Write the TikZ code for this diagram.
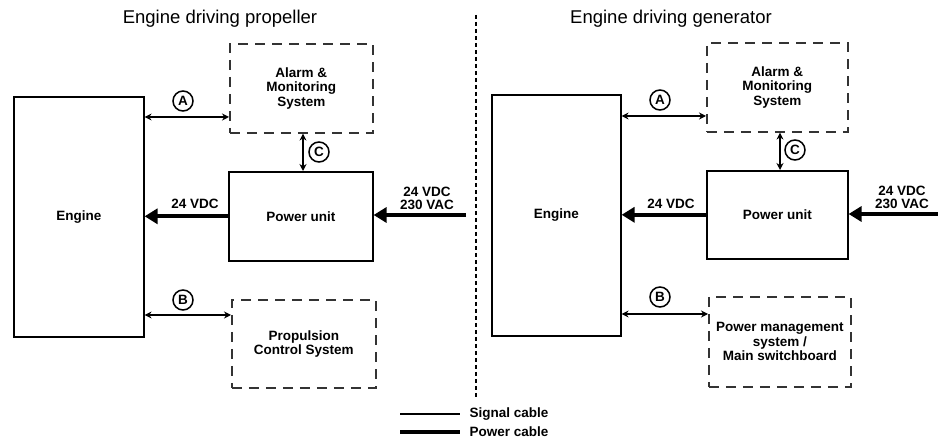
\documentclass[tikz,border=0pt]{standalone}
\usepackage{fontspec}
\setmainfont{Liberation Sans}
\usetikzlibrary{arrows.meta}
\begin{document}
\begin{tikzpicture}[x=1pt,y=-1pt,
  txt/.style={font=\fontsize{13.5}{14.5}\selectfont\bfseries, align=center},
  box/.style={txt, draw, line width=1.6pt, inner sep=0pt, anchor=north west},
  dbox/.style={txt, draw=black!80, line width=1.6pt, dash pattern=on 10pt off 7pt, inner sep=0pt, anchor=north west},
  sig/.style={line width=1.6pt, {Stealth[length=7pt,width=7pt]}-{Stealth[length=7pt,width=7pt]}},
  pow/.style={line width=4pt, -{Triangle[length=13pt,width=15pt]}},
  tag/.style={circle, draw, line width=1.5pt, inner sep=0pt, minimum size=20pt, font=\fontsize{13.5}{14}\selectfont\bfseries},
  ttl/.style={font=\fontsize{18.5}{20}\selectfont}
]
\useasboundingbox (0,0) rectangle (938,443);

% ---------- left panel ----------
\node[ttl] (Lt) at (220,19) {Engine driving propeller};
\node[box, minimum width=130pt, minimum height=240pt] (Leng) at (13,96) {Engine};
\node[dbox, minimum width=143pt, minimum height=89pt] (Lalarm) at (229,43) {Alarm \&\\Monitoring\\System};
\node[box, minimum width=144pt, minimum height=89pt] (Lpow) at (228,171) {Power unit};
\node[dbox, minimum width=144pt, minimum height=88pt] (Lprop) at (231,299) {Propulsion\\Control System};

\draw[sig] (Leng.east |- 0,117) -- (Lalarm.west |- 0,117);
\draw[sig] (Leng.east |- 0,315) -- (Lprop.west |- 0,315);
\draw[sig] (Lalarm.south -| 303,0) -- (Lpow.north -| 303,0);
\node[tag] (LtA) at (183,101) {A};
\node[tag] (LtB) at (183,300) {B};
\node[tag] (LtC) at (319,152) {C};

\draw[pow] (Lpow.west) -- (Leng.east |- Lpow.west);
\node[txt] (Lv) at (195,204) {24 VDC};
\coordinate (Lin) at (466,215);
\draw[pow] (Lin) -- (Lpow.east |- Lin);
\node[txt] (Lsup) at (427,198) {24 VDC\\[-1.5pt]230 VAC};

% ---------- divider ----------
\coordinate (dv1) at (476,15);
\coordinate (dv2) at (476,397);
\draw[line width=2.5pt, dash pattern=on 4pt off 3pt] (dv1) -- (dv2);

% ---------- right panel ----------
\node[ttl] (Rt) at (671,19) {Engine driving generator};
\node[box, minimum width=129pt, minimum height=241pt] (Reng) at (491,94) {Engine};
\node[dbox, minimum width=141pt, minimum height=89pt] (Ralarm) at (706,42) {Alarm \&\\Monitoring\\System};
\node[box, minimum width=141pt, minimum height=88pt] (Rpow) at (706,170) {Power unit};
\node[dbox, minimum width=142pt, minimum height=90pt] (Rpms) at (708,296) {Power management\\system /\\Main switchboard};

\draw[sig] (Reng.east |- 0,116) -- (Ralarm.west |- 0,116);
\draw[sig] (Reng.east |- 0,314) -- (Rpms.west |- 0,314);
\draw[sig] (Ralarm.south -| 780,0) -- (Rpow.north -| 780,0);
\node[tag] (RtA) at (660,100) {A};
\node[tag] (RtB) at (660,297) {B};
\node[tag] (RtC) at (795,150) {C};

\draw[pow] (Rpow.west) -- (Reng.east |- Rpow.west);
\node[txt] (Rv) at (671,204) {24 VDC};
\coordinate (Rin) at (938,214);
\draw[pow] (Rin) -- (Rpow.east |- Rin);
\node[txt] (Rsup) at (902,197) {24 VDC\\[-1.5pt]230 VAC};

% ---------- legend ----------
\coordinate (sg1) at (400,414);
\coordinate (sg2) at (460,414);
\coordinate (pw1) at (400,432);
\coordinate (pw2) at (460,432);
\draw[line width=2pt] (sg1) -- (sg2);
\draw[line width=4pt] (pw1) -- (pw2);
\node[txt, anchor=west] (sgt) at (466,414) {Signal cable};
\node[txt, anchor=west] (pwt) at (466,432) {Power cable};
\end{tikzpicture}
\end{document}
